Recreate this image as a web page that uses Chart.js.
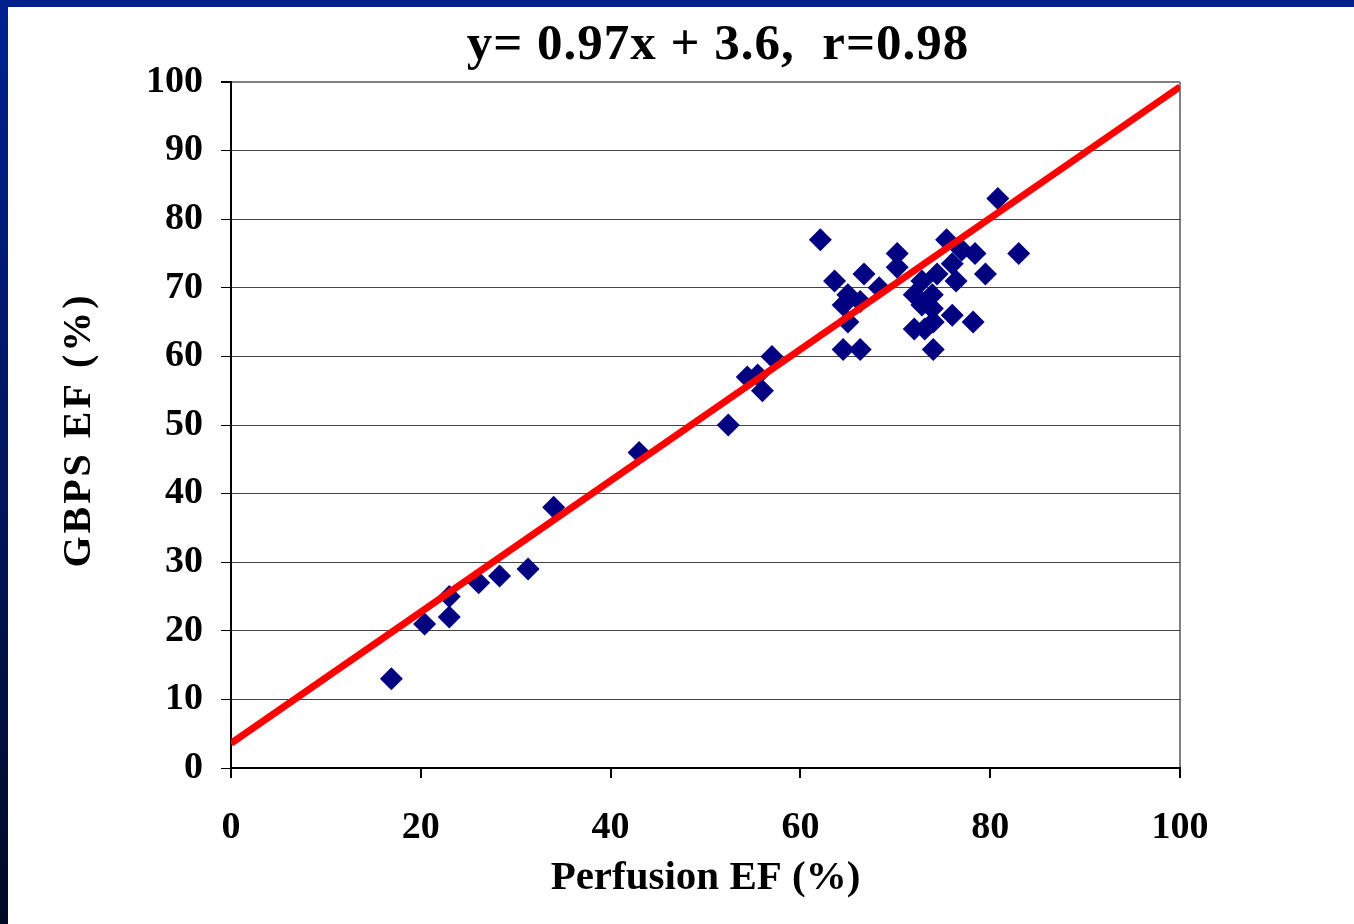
<!DOCTYPE html>
<html>
<head>
<meta charset="utf-8">
<script src="https://cdn.jsdelivr.net/npm/chart.js@4/dist/chart.umd.min.js"></script>
<style>
  html, body { margin: 0; padding: 0; background: #fff; }
  #wrap { position: relative; width: 1354px; height: 924px; overflow: hidden; }
  #topbar { position: absolute; left: 0; top: 0; width: 1354px; height: 7px; background: #002090; }
  #leftbar { position: absolute; left: 0; top: 0; width: 8px; height: 924px;
             background: linear-gradient(to bottom, #002090 0%, #001660 50%, #000a24 100%); }
  #chart { position: absolute; left: 0; top: 0; }
</style>
</head>
<body>
<div id="wrap">
  <div id="topbar"></div>
  <div id="leftbar"></div>
  <canvas id="chart" width="1354" height="924"></canvas>
</div>
<script>
// Perfusion EF vs GBPS EF
const perfusionEF = [16.9, 20.4, 23, 23, 26.1, 28.3, 31.3, 34, 43, 52.4,
  54.4, 55.5, 56, 57,
  62.1, 63.6, 66.7, 70.2, 70.2, 68.3, 65, 66.3, 64.5, 65, 64.5, 66.3,
  75.4, 77, 78.4, 76, 79.5, 76.4, 83, 80.8,
  74.4, 72.8, 72, 73.9, 72.8, 73.9, 72, 73.1, 74, 76, 78.2, 74];
const gbpsEF = [13, 21, 22, 25, 27, 28, 29, 38, 46, 50,
  57, 57.3, 55, 60,
  77, 71, 72, 75, 73, 70, 69, 68, 67.5, 65, 61, 61,
  77, 75.5, 75, 73.5, 72, 71, 75, 83,
  72, 71, 69, 69, 67.5, 67, 64, 64, 65, 66, 65, 61];

// regression line end points as drawn
const fitX = [0, 100];
const fitY = [3.6, 99.3];

const xTicks = [0, 20, 40, 60, 80, 100];
const yTicks = [0, 10, 20, 30, 40, 50, 60, 70, 80, 90, 100];

const titleText = 'y= 0.97x + 3.6,  r=0.98';
const yTitleText = 'GBPS EF (%)';

const serif = "'Liberation Serif', 'Times New Roman', serif";

const textPlugin = {
  id: 'slideText',
  afterDraw(chart) {
    const ctx = chart.ctx;
    ctx.save();
    ctx.fillStyle = '#000';
    ctx.textAlign = 'center';
    ctx.textBaseline = 'middle';
    ctx.font = 'bold 51px ' + serif;
    ctx.letterSpacing = '1px';
    ctx.fillText(titleText, 718, 46);
    ctx.translate(80, 430);
    ctx.rotate(-Math.PI / 2);
    ctx.font = 'bold 40px ' + serif;
    ctx.letterSpacing = '3px';
    ctx.fillText(yTitleText, 0, 0);
    ctx.restore();
  }
};

new Chart(document.getElementById('chart'), {
  type: 'scatter',
  data: {
    datasets: [
      {
        type: 'line',
        data: fitX.map((x, i) => ({ x: x, y: fitY[i] })),
        borderColor: '#ff0000',
        borderWidth: 7,
        pointRadius: 0,
        fill: false
      },
      {
        data: perfusionEF.map((x, i) => ({ x: x, y: gbpsEF[i] })),
        pointStyle: 'rectRot',
        pointRadius: 11.5,
        pointHoverRadius: 11.5,
        backgroundColor: '#000080',
        borderWidth: 0
      }
    ]
  },
  options: {
    responsive: false,
    animation: false,
    layout: { padding: { left: 0, top: 82, right: 174, bottom: 0 } },
    plugins: { legend: { display: false }, tooltip: { enabled: false } },
    scales: {
      x: {
        type: 'linear', min: 0, max: 100,
        afterBuildTicks: s => { s.ticks = xTicks.map(v => ({ value: v })); },
        afterFit: s => { s.height = 156; },
        ticks: { color: '#000', font: { family: serif, size: 38, weight: 'bold' }, padding: 27 },
        grid: {
          color: c => (c.tick && c.tick.value === 100) ? '#808080' : 'rgba(0,0,0,0)',
          lineWidth: 2,
          tickColor: '#000', tickLength: 10
        },
        border: { color: '#000', width: 2 },
        title: { display: true, text: 'Perfusion EF (%)', color: '#000',
                 font: { family: serif, size: 41, weight: 'bold' }, padding: 21 }
      },
      y: {
        type: 'linear', min: 0, max: 100,
        afterBuildTicks: s => { s.ticks = yTicks.map(v => ({ value: v })); },
        afterFit: s => { s.width = 231; },
        ticks: { color: '#000', font: { family: serif, size: 38, weight: 'bold' }, padding: 18 },
        grid: {
          color: c => (c.tick && c.tick.value === 100) ? '#808080' : '#444',
          lineWidth: c => (c.tick && c.tick.value === 100) ? 2 : 1,
          tickColor: '#000', tickLength: 10
        },
        border: { color: '#000', width: 2 }
      }
    }
  },
  plugins: [textPlugin]
});
</script>
</body>
</html>
